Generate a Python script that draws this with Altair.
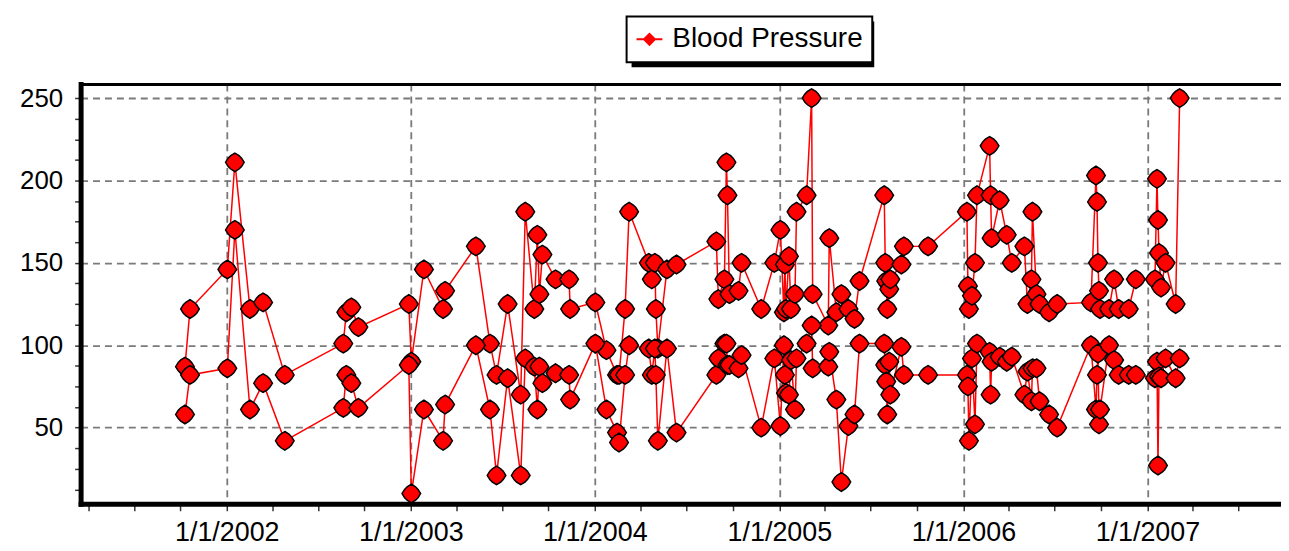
import altair as alt
import pandas as pd

# ---- data ----
dates = [
    "2001-10-10", "2001-10-20", "2002-01-02", "2002-01-17", "2002-02-16", "2002-03-14",
    "2002-04-26", "2002-08-20", "2002-08-26", "2002-09-05", "2002-09-19", "2002-12-28",
    "2003-01-02", "2003-01-27", "2003-03-06", "2003-03-10", "2003-05-10", "2003-06-07",
    "2003-06-20", "2003-07-12", "2003-08-07", "2003-08-16", "2003-09-03", "2003-09-09",
    "2003-09-13", "2003-09-19", "2003-10-15", "2003-11-11", "2003-11-13", "2004-01-02",
    "2004-01-24", "2004-02-14", "2004-02-18", "2004-03-01", "2004-03-09", "2004-04-17",
    "2004-04-23", "2004-04-29", "2004-05-01", "2004-05-05", "2004-05-23", "2004-06-11",
    "2004-08-29", "2004-09-02", "2004-09-14", "2004-09-18", "2004-09-20", "2004-09-24",
    "2004-10-12", "2004-10-18", "2004-11-26", "2004-12-22", "2005-01-03", "2005-01-10",
    "2005-01-12", "2005-01-14", "2005-01-20", "2005-01-24", "2005-02-01", "2005-02-04",
    "2005-02-24", "2005-03-06", "2005-03-08", "2005-04-08", "2005-04-10", "2005-04-24",
    "2005-05-04", "2005-05-18", "2005-05-30", "2005-06-09", "2005-07-28", "2005-07-30",
    "2005-08-01", "2005-08-03", "2005-08-07", "2005-08-09", "2005-08-31", "2005-09-05",
    "2005-10-23", "2006-01-08", "2006-01-10", "2006-01-12", "2006-01-18", "2006-01-24",
    "2006-01-28", "2006-02-22", "2006-02-24", "2006-02-26", "2006-03-14", "2006-03-28",
    "2006-04-07", "2006-05-02", "2006-05-08", "2006-05-16", "2006-05-18", "2006-05-26",
    "2006-06-01", "2006-06-20", "2006-07-06", "2006-09-11", "2006-09-21", "2006-09-23",
    "2006-09-25", "2006-09-27", "2006-09-29", "2006-10-17", "2006-10-27", "2006-11-05",
    "2006-11-25", "2006-12-09", "2007-01-16", "2007-01-20", "2007-01-22", "2007-01-24",
    "2007-01-28", "2007-02-06", "2007-02-26", "2007-03-06",
]
systolic = [
    87, 122, 146, 211, 122, 126, 82, 101, 120, 123, 111, 125,
    90, 146, 122, 133, 160, 101, 82, 125, 70, 181, 122, 167,
    131, 155, 140, 140, 122, 126, 97, 82, 82, 122, 181, 150,
    140, 150, 122, 98, 146, 149, 163, 128, 140, 211, 191, 131,
    133, 150, 122, 150, 170, 120, 149, 122, 154, 122, 131, 181,
    191, 250, 131, 112, 165, 120, 131, 122, 116, 139, 191, 150,
    139, 122, 134, 140, 149, 160, 160, 181, 136, 122, 130, 150,
    191, 221, 191, 165, 188, 167, 150, 160, 125, 140, 181, 131,
    125, 120, 125, 126, 203, 187, 150, 133, 122, 122, 140, 122,
    122, 140, 140, 201, 176, 156, 135, 150, 125, 250,
]
diastolic = [
    58, 82, 86, 170, 61, 77, 42, 62, 82, 77, 62, 88,
    10, 61, 42, 64, 100, 61, 21, 80, 21, 92, 87, 61,
    87, 77, 83, 82, 67, 101, 61, 47, 41, 82, 100, 98,
    82, 98, 82, 42, 98, 47, 82, 92, 101, 101, 88, 88,
    86, 94, 50, 92, 51, 100, 82, 71, 70, 91, 61, 92,
    101, 112, 86, 87, 96, 67, 17, 51, 58, 101, 101, 88,
    78, 58, 90, 70, 99, 82, 82, 82, 75, 42, 92, 52,
    101, 96, 70, 90, 93, 90, 93, 70, 84, 66, 86, 86,
    66, 58, 50, 100, 61, 82, 95, 52, 61, 100, 91, 82,
    82, 82, 80, 90, 27, 81, 80, 92, 80, 92,
]
series_name = "Blood Pressure"
y_tick_values = [12.5, 25, 37.5, 50, 62.5, 75, 87.5, 100, 112.5, 125, 137.5, 150,
                 162.5, 175, 187.5, 200, 212.5, 225, 237.5, 250]
x_tick_dates = [
    "2001-04-01", "2001-07-01", "2001-10-01", "2002-01-01", "2002-04-01", "2002-07-01",
    "2002-10-01", "2003-01-01", "2003-04-01", "2003-07-01", "2003-10-01", "2004-01-01",
    "2004-04-01", "2004-07-01", "2004-10-01", "2005-01-01", "2005-04-01", "2005-07-01",
    "2005-10-01", "2006-01-01", "2006-04-01", "2006-07-01", "2006-10-01", "2007-01-01",
    "2007-04-01", "2007-07-01",
]
x_domain = ["2001-03-17", "2007-09-23"]
y_domain = [3.8, 258.5]

# ---- build table ----
df = pd.DataFrame({
    "date": dates * 2,
    "value": systolic + diastolic,
    "kind": ["systolic"] * len(dates) + ["diastolic"] * len(dates),
    "series": [series_name] * (2 * len(dates)),
})


def to_dt(s):
    y, m, d = (int(p) for p in s.split("-"))
    return alt.DateTime(year=y, month=m, date=d, utc=True)


x_scale = alt.Scale(type="utc", domain=[to_dt(s) for s in x_domain])
y_scale = alt.Scale(domain=y_domain, nice=False, zero=False)

FONT = "Liberation Sans"
marker_path = ("M0,-1L0.45,-0.72L0.72,-0.45L1,0L0.72,0.45L0.45,0.72L0,1"
               "L-0.45,0.72L-0.72,0.45L-1,0L-0.72,-0.45L-0.45,-0.72Z")

LEG_X, LEG_Y, LEG_W, LEG_H = 549, -68, 244, 46

x_axis = alt.Axis(
    values=[to_dt(s) for s in x_tick_dates],
    labelExpr="utcmonth(datum.value) == 0 ? utcFormat(datum.value, '%-m/%-d/%Y') : ''",
    grid=True,
    gridColor="#7a7a7a",
    gridDash=[7, 5],
    gridWidth=1.8,
    gridOpacity={"condition": {"test": "utcmonth(datum.value) == 0", "value": 1}, "value": 0},
    domainColor="black",
    domainWidth=5,
    domainCap="square",
    tickColor="#333333",
    tickWidth=1.5,
    tickSize=7,
    labelPadding=9,
    labelFont=FONT,
    labelFontSize=27,
    labelColor="black",
    labelOverlap=False,
    labelFlush=False,
    title=None,
)
y_axis = alt.Axis(
    values=y_tick_values,
    labelExpr="datum.value % 50 == 0 ? datum.label : ''",
    grid=True,
    gridColor="#7a7a7a",
    gridDash=[7, 5],
    gridWidth=1.8,
    gridOpacity={"condition": {"test": "datum.value % 50 == 0", "value": 1}, "value": 0},
    domainColor="black",
    domainWidth=5,
    domainCap="square",
    tickColor="#333333",
    tickWidth=1.5,
    tickSize=6,
    labelPadding=12,
    labelFont=FONT,
    labelFontSize=26,
    labelColor="black",
    labelOverlap=False,
    labelFlush=False,
    title=None,
)

lines = alt.Chart(df).mark_line(strokeWidth=1.5).encode(
    x=alt.X("date:T", scale=x_scale, axis=x_axis),
    y=alt.Y("value:Q", scale=y_scale, axis=y_axis),
    detail="kind:N",
    color=alt.Color(
        "series:N",
        scale=alt.Scale(range=["#ff0000"]),
        legend=alt.Legend(
            title=None,
            orient="none",
            legendX=LEG_X,
            legendY=LEG_Y,
            fillColor="white",
            strokeColor="black",
            padding=9,
            symbolType="M-1,0L1,0M-0.42,0L0,-0.42L0.42,0L0,0.42Z",
            symbolSize=676,
            symbolStrokeWidth=2,
            symbolStrokeColor="#ff0000",
            symbolFillColor="#ff0000",
            labelFont=FONT,
            labelFontSize=28,
            labelColor="black",
            labelOffset=9,
            labelLimit=400,
        ),
    ),
)

points = alt.Chart(df).mark_point(
    shape=marker_path, filled=True, fill="#ff0000", stroke="black",
    strokeWidth=1.5, size=350, opacity=1,
).encode(
    x=alt.X("date:T", scale=x_scale, axis=None),
    y=alt.Y("value:Q", scale=y_scale, axis=y_axis),
)

top_border = alt.Chart(df).mark_line(opacity=0).encode(
    x=alt.X("date:T", scale=x_scale, axis=alt.Axis(
        orient="top", labels=False, ticks=False, grid=False,
        domainColor="black", domainWidth=3, title=None)),
    y=alt.Y("value:Q", scale=y_scale, axis=y_axis),
    detail="kind:N",
)

shadow = alt.Chart(pd.DataFrame({"k": [0]})).mark_rect(color="black").encode(
    x=alt.value(LEG_X + 5), x2=alt.value(LEG_X + LEG_W + 5),
    y=alt.value(LEG_Y + 5), y2=alt.value(LEG_Y + LEG_H + 5),
)

chart = alt.layer(shadow, lines, points, top_border).resolve_axis(
    x="independent"
).properties(
    width=1207,
    height=422,
    padding={"left": 11, "top": 6, "right": 0, "bottom": 0},
    background="white",
).configure_view(stroke=None).configure_legend(strokeWidth=2)

chart.save("out.html", embed_options={"renderer": "svg", "actions": False})
